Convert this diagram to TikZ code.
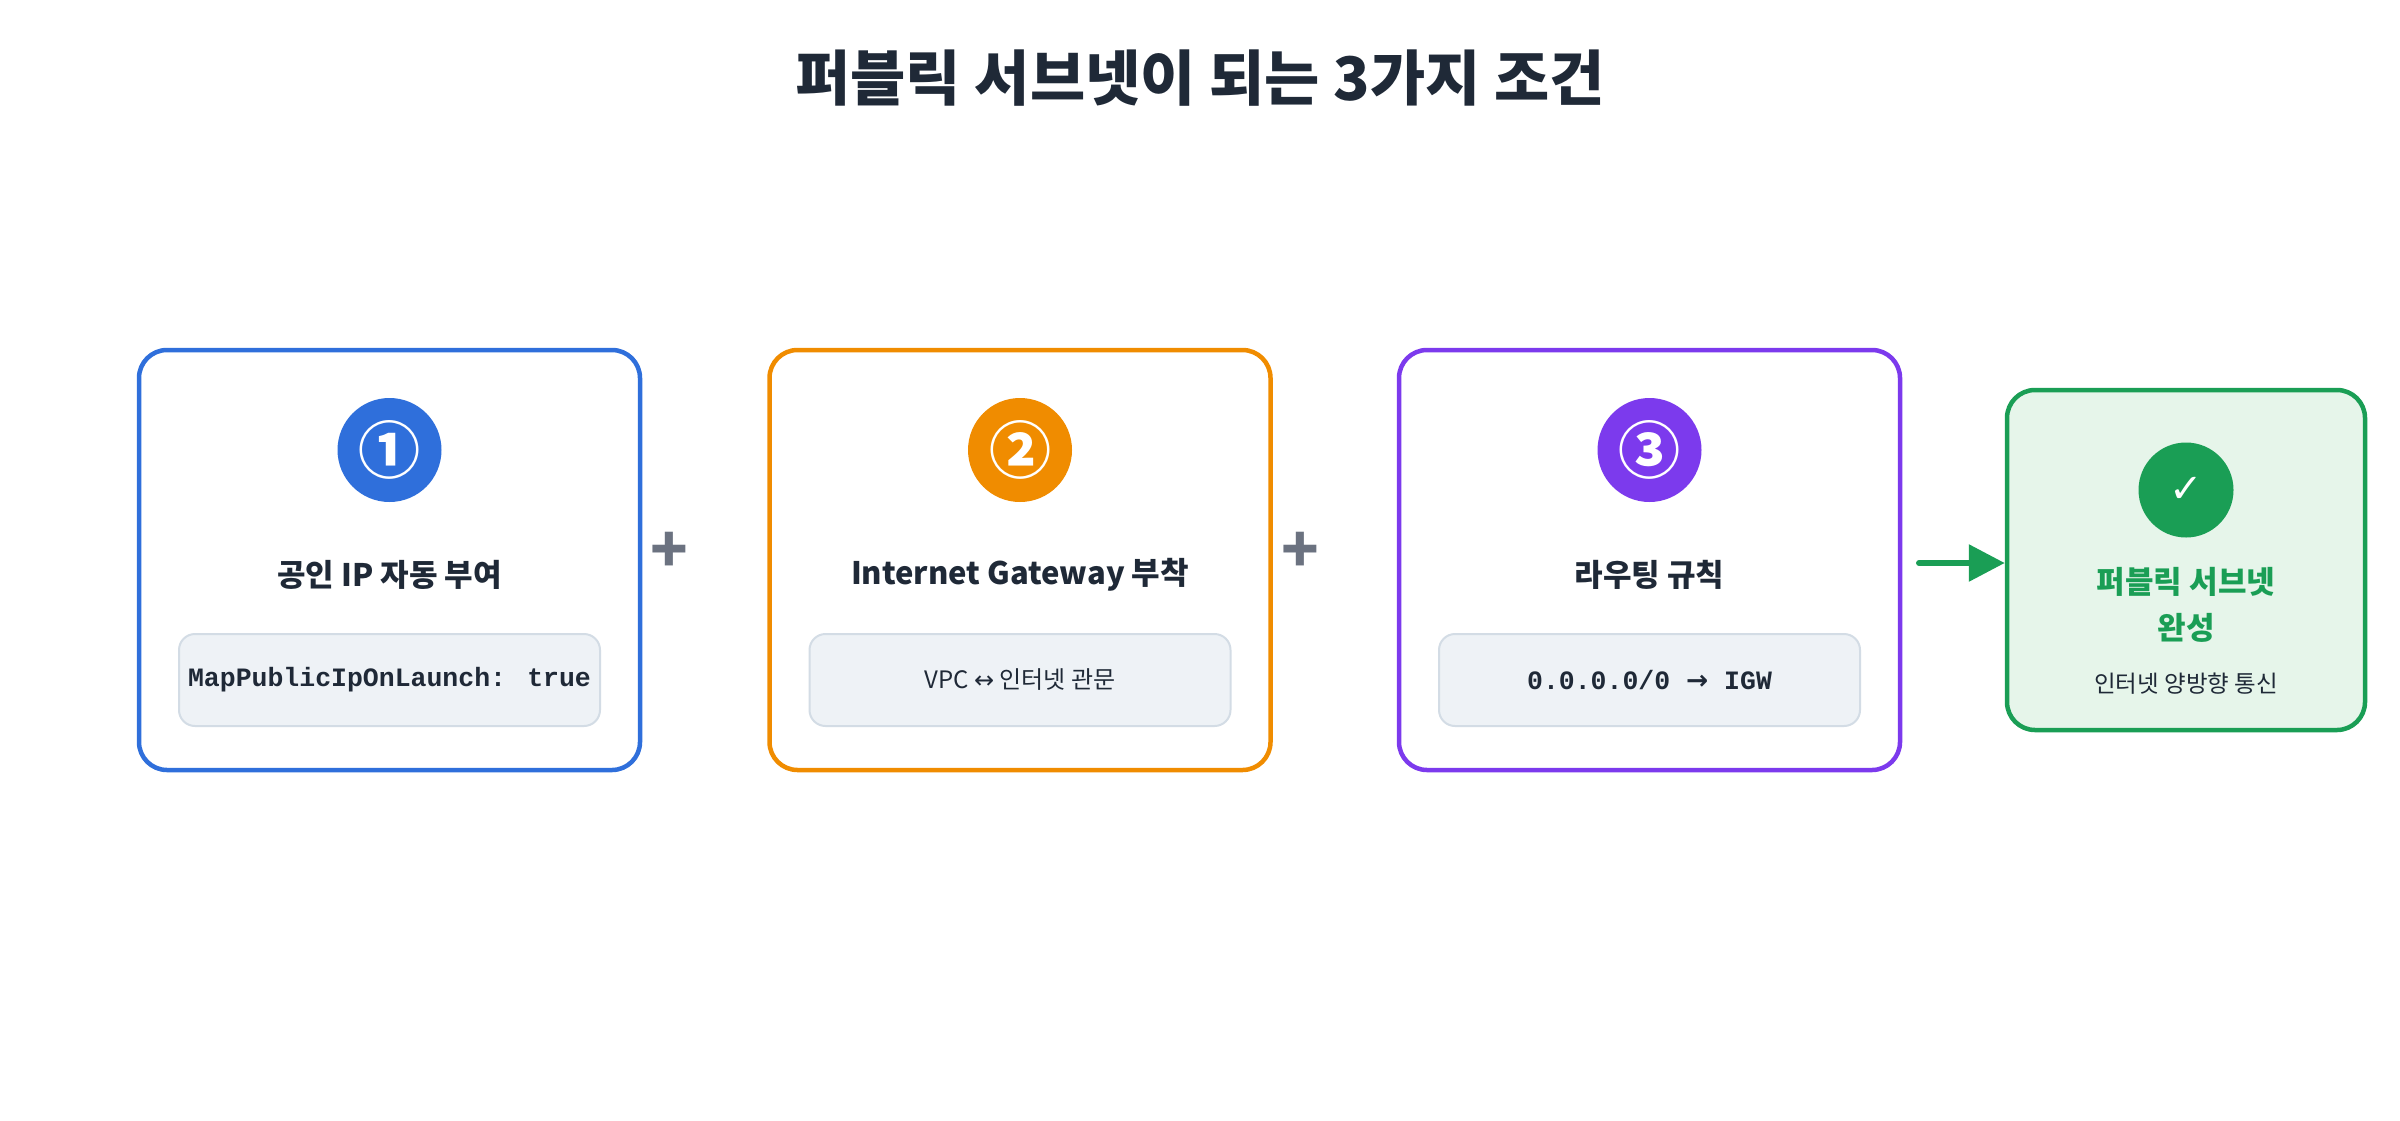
\documentclass[tikz,border=0pt]{standalone}
\usepackage{fontspec}
\setmainfont{Noto Sans CJK KR}
\newfontfamily\kr{Noto Sans CJK KR}
\newfontfamily\monob{Liberation Mono}
\newfontfamily\dv{DejaVu Sans}
\usetikzlibrary{arrows.meta}
\definecolor{cblue}{HTML}{2F6FDB}
\definecolor{corange}{HTML}{F08C00}
\definecolor{cpurple}{HTML}{7C3AED}
\definecolor{cgreen}{HTML}{1A9E55}
\definecolor{lgreen}{HTML}{E6F5EA}
\definecolor{codebg}{HTML}{EEF2F6}
\definecolor{codebd}{HTML}{D3DCE5}
\definecolor{txt}{HTML}{1F2937}
\definecolor{plusc}{HTML}{6B7280}
\begin{document}
\begin{tikzpicture}[x=1pt,y=-1pt,
  card/.style={draw=#1,line width=4.5pt,rounded corners=28pt,fill=white,minimum width=501pt,minimum height=420pt},
  badge/.style={circle,fill=#1,minimum size=104pt,inner sep=0pt,text=white,font=\kr\bfseries\fontsize{62}{62}\selectfont},
  ttl/.style={font=\kr\bfseries\fontsize{31}{36}\selectfont,text=txt},
  codebox/.style={draw=codebd,line width=2pt,fill=codebg,rounded corners=16pt,minimum width=421pt,minimum height=92pt,text=txt},
  plus/.style={font=\kr\bfseries\fontsize{62}{62}\selectfont,text=plusc}]
\useasboundingbox (0,0) rectangle (2400,1120);
\node[font=\kr\bfseries\fontsize{60}{64}\selectfont,text=txt] (title) at (1200,78) {퍼블릭 서브넷이 되는 3가지 조건};
% cards
\node[card=cblue] (c1) at (389.5,560) {};
\node[card=corange] (c2) at (1020,560) {};
\node[card=cpurple] (c3) at (1649.5,560) {};
\node[badge=cblue] (b1) at (389.5,450) {①};
\node[badge=corange] (b2) at (1020,450) {②};
\node[badge=cpurple] (b3) at (1649.5,450) {③};
\node[ttl] (t1) at (389.5,575) {공인 IP 자동 부여};
\node[ttl] (t2) at (1020,575) {Internet Gateway 부착};
\node[ttl] (t3) at (1649.5,575) {라우팅 규칙};
\node[codebox,font=\monob\bfseries\fontsize{26.5}{30}\selectfont] (k1) at (389.5,680) {MapPublicIpOnLaunch: true};
\node[codebox,font=\kr\fontsize{24}{28}\selectfont] (k2) at (1020,680) {VPC {\dv↔} 인터넷 관문};
\node[codebox,font=\monob\bfseries\fontsize{26.5}{30}\selectfont] (k3) at (1649.5,680) {0.0.0.0/0 {\dv\bfseries→} IGW};
\node[plus] (p1) at (669,552) {+};
\node[plus] (p2) at (1300,552) {+};
% result
\node[draw=cgreen,line width=4.5pt,rounded corners=28pt,fill=lgreen,minimum width=358pt,minimum height=340pt] (r) at (2186,560) {};
\node[circle,fill=cgreen,minimum size=95pt,inner sep=0pt,text=white,font=\dv\fontsize{40}{40}\selectfont] (rc) at (2186,490) {✓};
\node[font=\kr\bfseries\fontsize{31}{46}\selectfont,text=cgreen,align=center] (rt) at (2186,605) {퍼블릭 서브넷\\완성};
\node[font=\kr\fontsize{23.5}{28}\selectfont,text=txt] (rs) at (2186,684) {인터넷 양방향 통신};
\coordinate (a0) at (1919,563);
\draw[cgreen,line width=6pt,line cap=round,-{Triangle[length=36pt,width=36pt]}] (a0) -- (r.west |- a0);
\end{tikzpicture}
\end{document}
